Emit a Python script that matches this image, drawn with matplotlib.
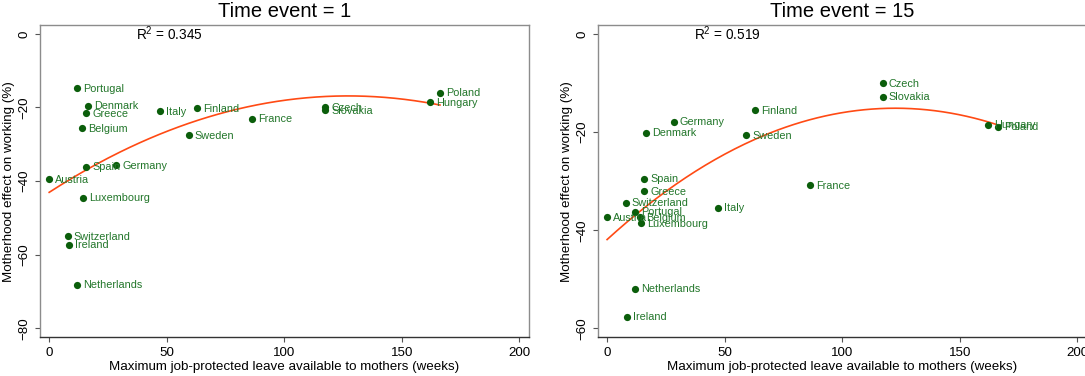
import numpy as np
import matplotlib
matplotlib.use("Agg")
import matplotlib.pyplot as plt

plt.rcParams["font.family"] = ["Liberation Sans", "DejaVu Sans"]
plt.rcParams["mathtext.fontset"] = "custom"
plt.rcParams["mathtext.rm"] = "Liberation Sans"
plt.rcParams["mathtext.it"] = "Liberation Sans"

# Countries and maximum job-protected leave (weeks)
countries = ["Austria", "Switzerland", "Ireland", "Portugal", "Netherlands",
             "Belgium", "Luxembourg", "Spain", "Greece", "Denmark", "Germany",
             "Italy", "Sweden", "Finland", "France", "Czech", "Slovakia",
             "Hungary", "Poland"]
leave_weeks = [0, 7.9, 8.4, 11.9, 11.9, 13.8, 14.5, 15.8, 15.8, 16.4, 28.4,
               47.1, 59.3, 63.0, 86.3, 117.3, 117.3, 161.9, 166.2]

# Motherhood effect on working (%) at event time 1
effect_t1 = [-39.5, -55.0, -57.2, -14.8, -68.1, -25.6, -44.5, -36.1, -21.5,
             -19.5, -35.6, -20.9, -27.6, -20.2, -23.0, -20.0, -20.7, -18.6,
             -16.0]
# Motherhood effect on working (%) at event time 15
effect_t15 = [-37.3, -34.4, -57.6, -36.2, -51.9, -37.3, -38.5, -29.5, -32.0,
              -20.1, -17.9, -35.4, -20.6, -15.5, -30.8, -10.0, -12.8, -18.5,
              -18.9]

panel_titles = ["Time event = 1", "Time event = 15"]
r2_labels = ["0.345", "0.519"]
y_ticks = [[0, -20, -40, -60, -80], [0, -20, -40, -60]]
y_limits = [(-82.4, 2.4), (-61.8, 1.8)]
x_ticks = [0, 50, 100, 150, 200]

dot_color = "#0b5e0b"
label_color = "#22762a"
fit_color = "#ff4a14"
frame_gray = "#8c8c8c"

fig = plt.figure(figsize=(10.85, 3.76), dpi=100)
positions = [[0.0371, 0.1029, 0.4501, 0.8306],
             [0.5513, 0.1029, 0.4500, 0.8306]]

x = np.array(leave_weeks)
for i, effects in enumerate([effect_t1, effect_t15]):
    ax = fig.add_axes(positions[i])
    y = np.array(effects)

    # Quadratic fit across the observed range of leave
    coef = np.polyfit(x, y, 2)
    xs = np.linspace(x.min(), x.max(), 200)
    ax.plot(xs, np.polyval(coef, xs), color=fit_color, lw=1.2, zorder=2)

    ax.scatter(x, y, s=27, color=dot_color, zorder=3, linewidths=0)
    for name, xv, yv in zip(countries, x, y):
        ax.annotate(name, (xv, yv), xytext=(4.4, -0.5),
                    textcoords="offset points", ha="left", va="center",
                    fontsize=7.8, color=label_color, zorder=4)

    ax.text(36.8, 0, r"R$^{2}$ = " + r2_labels[i], fontsize=9.8,
            ha="left", va="center", color="black")

    ax.set_xlim(-3.8, 203.9)
    ax.set_ylim(*y_limits[i])
    ax.set_xticks(x_ticks)
    ax.set_yticks(y_ticks[i])
    ax.tick_params(axis="both", labelsize=9.6, length=3.8, width=0.8,
                   color="#555555", pad=3.5)
    for lab in ax.get_yticklabels():
        lab.set_rotation(90)
        lab.set_va("center")

    for side in ["left", "top", "right"]:
        ax.spines[side].set_color(frame_gray)
        ax.spines[side].set_linewidth(1.0)
    ax.spines["bottom"].set_color("#333333")
    ax.spines["bottom"].set_linewidth(1.0)

    ax.set_title(panel_titles[i], fontsize=14.5, pad=5.5)
    ax.set_xlabel("Maximum job-protected leave available to mothers (weeks)",
                  fontsize=9.6, labelpad=1)
    ax.set_ylabel("Motherhood effect on working (%)", fontsize=9.6,
                  labelpad=2)

fig.savefig("out.png", dpi=100)
